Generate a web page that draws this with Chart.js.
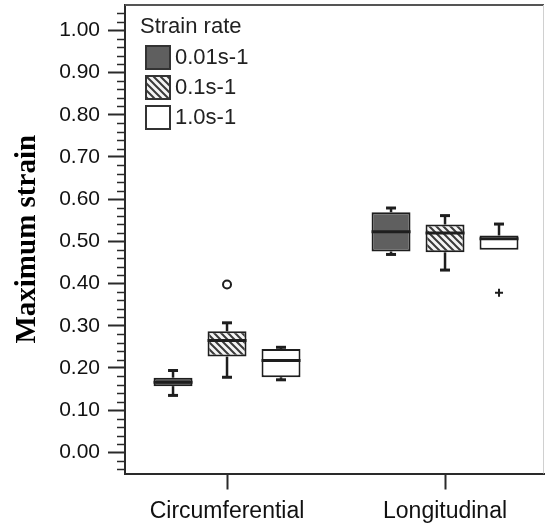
<!DOCTYPE html>
<html>
<head>
<meta charset="UTF-8">
<title>Maximum strain</title>
<script src="https://cdn.jsdelivr.net/npm/chart.js"></script>
<style>
  body, html { margin: 0; padding: 0; background: #fff; }
  #wrap { width: 546px; height: 526px; }
</style>
</head>
<body>
<div id="wrap"><canvas id="chart" width="546" height="526"></canvas></div>
<script>
// values
var categories = ['Circumferential', 'Longitudinal'];
var rateLabels = ['0.01s-1', '0.1s-1', '1.0s-1'];
// one row per strain rate, one column per category
var whiskerLow  = [[0.135, 0.469], [0.178, 0.432], [0.172, 0.480]];
var boxLow      = [[0.157, 0.476], [0.227, 0.474], [0.178, 0.480]];
var medians     = [[0.166, 0.523], [0.265, 0.520], [0.218, 0.506]];
var boxHigh     = [[0.177, 0.569], [0.287, 0.540], [0.245, 0.514]];
var whiskerHigh = [[0.194, 0.579], [0.307, 0.561], [0.249, 0.541]];
// [rate, category, value]
var outlierCircles = [[1, 0, 0.398]];
var outlierPlus = [[2, 1, 0.378]];
var yTicks = [0, 0.1, 0.2, 0.3, 0.4, 0.5, 0.6, 0.7, 0.8, 0.9, 1.0];

function hatchPattern() {
    var c = document.createElement('canvas');
    c.width = 7; c.height = 7;
    var g = c.getContext('2d');
    g.fillStyle = '#f4f4f4';
    g.fillRect(0, 0, 7, 7);
    g.strokeStyle = '#3a3a3a';
    g.lineWidth = 2;
    g.beginPath();
    g.moveTo(-2, -2); g.lineTo(9, 9);
    g.moveTo(-9, -2); g.lineTo(2, 9);
    g.moveTo(5, -2); g.lineTo(16, 9);
    g.stroke();
    return g.createPattern(c, 'repeat');
}

var ctx = document.getElementById('chart').getContext('2d');
var fills = ['#5f5f5f', hatchPattern(), '#ffffff'];

var datasets = rateLabels.map(function (lab, r) {
    return {
        label: lab,
        data: categories.map(function (c, i) { return { x: i + 1, y: [boxLow[r][i], boxHigh[r][i]] }; }),
        backgroundColor: fills[r],
        borderColor: '#1e1e1e',
        borderWidth: 2,
        borderSkipped: false
    };
});

var boxPlugin = {
    id: 'boxParts',
    afterDatasetsDraw: function (chart) {
        var c = chart.ctx, ys = chart.scales.y;
        c.save();
        c.strokeStyle = '#1e1e1e';
        c.lineCap = 'butt';
        chart.data.datasets.forEach(function (ds, r) {
            var meta = chart.getDatasetMeta(r);
            meta.data.forEach(function (bar, i) {
                var x = bar.x, w = bar.width;
                var yMed = ys.getPixelForValue(medians[r][i]);
                c.lineWidth = 3;
                c.beginPath(); c.moveTo(x - w / 2, yMed); c.lineTo(x + w / 2, yMed); c.stroke();
                var pairs = [[boxHigh[r][i], whiskerHigh[r][i]], [boxLow[r][i], whiskerLow[r][i]]];
                pairs.forEach(function (p) {
                    if (Math.abs(p[0] - p[1]) < 0.0005) return;
                    var a = ys.getPixelForValue(p[0]), b = ys.getPixelForValue(p[1]);
                    c.lineWidth = 2.5;
                    c.beginPath(); c.moveTo(x, a); c.lineTo(x, b); c.stroke();
                    c.lineWidth = 3;
                    c.beginPath(); c.moveTo(x - 5, b); c.lineTo(x + 5, b); c.stroke();
                });
            });
        });
        c.lineWidth = 2;
        outlierCircles.forEach(function (o) {
            var bar = chart.getDatasetMeta(o[0]).data[o[1]];
            c.beginPath(); c.arc(bar.x, ys.getPixelForValue(o[2]), 4, 0, Math.PI * 2); c.stroke();
        });
        outlierPlus.forEach(function (o) {
            var bar = chart.getDatasetMeta(o[0]).data[o[1]];
            var py = ys.getPixelForValue(o[2]);
            c.beginPath();
            c.moveTo(bar.x - 4, py); c.lineTo(bar.x + 4, py);
            c.moveTo(bar.x, py - 4); c.lineTo(bar.x, py + 4);
            c.stroke();
        });
        c.restore();
    },
    afterDraw: function (chart) {
        var c = chart.ctx, a = chart.chartArea, ys = chart.scales.y;
        c.save();
        // minor ticks every 0.02
        c.strokeStyle = '#2a2a2a';
        c.lineWidth = 1.5;
        for (var k = -2; k <= 52; k++) {
            if (k % 5 === 0 && k >= 0 && k <= 50) continue;
            var v = k * 0.02;
            if (v < ys.min || v > ys.max) continue;
            var py = Math.round(ys.getPixelForValue(v)) + 0.5;
            c.beginPath(); c.moveTo(a.left - 8, py); c.lineTo(a.left, py); c.stroke();
        }
        // frame top and right
        c.strokeStyle = '#555';
        c.lineWidth = 2;
        c.beginPath(); c.moveTo(a.left, a.top); c.lineTo(a.right, a.top); c.stroke();
        c.strokeStyle = '#d0d0d0';
        c.lineWidth = 1;
        c.beginPath(); c.moveTo(a.right - 0.5, a.top); c.lineTo(a.right - 0.5, a.bottom); c.stroke();

        // legend
        var lx = a.left + 21, ly = 46;
        c.fillStyle = '#222';
        c.textBaseline = 'middle';
        c.textAlign = 'left';
        c.font = '22px "Liberation Sans", Arial, sans-serif';
        c.fillText('Strain rate', a.left + 15, 27);
        chart.data.datasets.forEach(function (ds, r) {
            var top = ly + r * 30;
            c.fillStyle = ds.backgroundColor;
            c.fillRect(lx, top, 24, 23);
            c.strokeStyle = '#333';
            c.lineWidth = 2;
            c.strokeRect(lx, top, 24, 23);
            c.fillStyle = '#222';
            c.fillText(ds.label, lx + 29, top + 12);
        });
        c.restore();
    }
};

new Chart(ctx, {
    type: 'bar',
    data: { datasets: datasets },
    options: {
        responsive: false,
        animation: false,
        layout: { padding: { top: 5, right: 2, left: 0, bottom: 0 } },
        categoryPercentage: 0.743,
        barPercentage: 0.722,
        plugins: { legend: { display: false }, tooltip: { enabled: false } },
        scales: {
            x: {
                type: 'linear',
                offset: false,
                min: 0.532,
                max: 2.454,
                afterBuildTicks: function (s) { s.ticks = categories.map(function (c, i) { return { value: i + 1 }; }); },
                afterFit: function (s) { s.height = 52.5; s.paddingLeft = 0; s.paddingRight = 0; },
                ticks: {
                    callback: function (v) { return categories[v - 1]; },
                    color: '#111',
                    font: { family: '"Liberation Sans", Arial, sans-serif', size: 23 },
                    padding: 8,
                    maxRotation: 0
                },
                grid: { drawOnChartArea: false, offset: false, tickLength: 16, tickColor: '#2a2a2a', tickWidth: 2 },
                border: { color: '#2a2a2a', width: 2 }
            },
            y: {
                min: -0.05,
                max: 1.06,
                afterBuildTicks: function (s) { s.ticks = yTicks.map(function (v) { return { value: v }; }); },
                afterFit: function (s) { s.width = 125; s.paddingTop = 0; s.paddingBottom = 0; },
                ticks: {
                    callback: function (v) { return v.toFixed(2); },
                    color: '#111',
                    font: { family: '"Liberation Sans", Arial, sans-serif', size: 21 },
                    padding: 8
                },
                grid: { drawOnChartArea: false, tickLength: 17, tickColor: '#2a2a2a', tickWidth: 2 },
                border: { color: '#2a2a2a', width: 2 },
                title: {
                    display: true,
                    text: 'Maximum strain',
                    color: '#000',
                    font: { family: '"Liberation Serif", "Times New Roman", serif', size: 29, weight: 'bold', lineHeight: 1 },
                    padding: { top: 13, bottom: 0 }
                }
            }
        }
    },
    plugins: [boxPlugin]
});
</script>
</body>
</html>
